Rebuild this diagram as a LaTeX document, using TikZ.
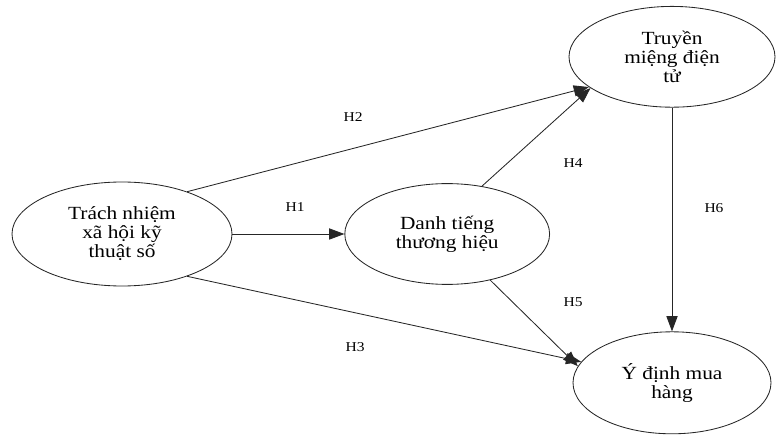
\documentclass[tikz,border=0pt]{standalone}
\usepackage{fontspec}
\setmainfont{Liberation Serif}[FakeStretch=1.15]
\usetikzlibrary{shapes.geometric,arrows.meta}

\tikzset{
  construct/.style={ellipse, draw=black!85, line width=0.6pt, align=center,
    inner sep=0pt, font=\fontsize{13.2}{13.5}\selectfont},
  hypo/.style={-{Triangle[length=3.8mm,width=2.8mm]}, black!85, line width=0.6pt},
  hlabel/.style={font=\fontsize{9.6}{11}\selectfont}
}

\begin{document}
\begin{tikzpicture}

  \useasboundingbox (0,0) rectangle (19.40,10.85);

  % --------------------------------------------------------------------------
  % Constructs
  % --------------------------------------------------------------------------
  \node[construct, minimum width=5.50cm, minimum height=2.60cm] (csr)
    at (3.05,5.00) {Trách nhiệm\\xã hội kỹ\\thuật số};

  \node[construct, minimum width=5.12cm, minimum height=2.52cm] (brand)
    at (11.18,5.00) {Danh tiếng\\thương hiệu};

  \node[construct, minimum width=5.15cm, minimum height=2.52cm] (ewom)
    at (16.80,9.43) {Truyền\\miệng điện\\tử};

  \node[construct, minimum width=4.95cm, minimum height=2.55cm] (intent)
    at (16.80,1.28) {Ý định mua\\hàng};

  % --------------------------------------------------------------------------
  % Hypotheses
  % --------------------------------------------------------------------------
  \draw[hypo] (csr.east) -- (brand.west);
  \draw[hypo] (csr.33) -- (ewom.200);
  \draw[hypo] (csr.-33) -- (intent.167);
  \draw[hypo] (brand.54) -- (ewom.201);
  \draw[hypo] (brand.-47) -- (intent.170);
  \draw[hypo] (ewom.south) -- (intent.north);

  \node[hlabel] (lhOne)   at (7.38,5.68)  {H1};
  \node[hlabel] (lhTwo)   at (8.83,7.93)  {H2};
  \node[hlabel] (lhThree) at (8.88,2.18)  {H3};
  \node[hlabel] (lhFour)  at (14.33,6.78) {H4};
  \node[hlabel] (lhFive)  at (14.33,3.30) {H5};
  \node[hlabel] (lhSix)   at (17.85,5.65) {H6};

\end{tikzpicture}
\end{document}
